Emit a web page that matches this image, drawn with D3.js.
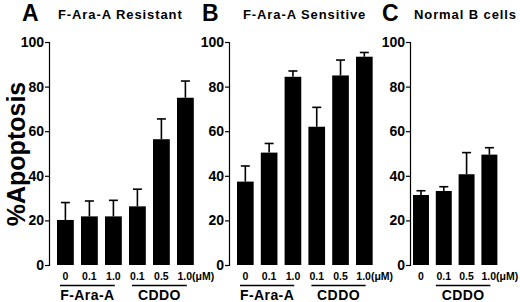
<!DOCTYPE html>
<html>
<head>
<meta charset="utf-8">
<script src="https://cdn.jsdelivr.net/npm/d3@7"></script>
<style>
  body { margin: 0; background: #fff; }
  text { font-family: "Liberation Sans", Arial, sans-serif; font-weight: bold; fill: #000; }
</style>
</head>
<body>
<div class="main"></div>
<script>
////Data
const labelsA = ['0', '0.1', '1.0', '0.1', '0.5', '1.0'];
const valuesA = [20.2, 21.8, 21.8, 26.3, 56.4, 75];
const errorsA = [28, 28.7, 29, 34, 65.5, 82.5];
const groupsA = [['F-Ara-A', 0, 2], ['CDDO', 3, 5]];

const labelsB = ['0', '0.1', '1.0', '0.1', '0.5', '1.0'];
const valuesB = [37.4, 50.4, 84.4, 62, 85, 93.4];
const errorsB = [44.4, 54.5, 87, 70.7, 91.9, 95.3];
const groupsB = [['F-Ara-A', 0, 2], ['CDDO', 3, 5]];

const labelsC = ['0', '0.1', '0.5', '1.0'];
const valuesC = [31.4, 33.2, 40.7, 49.5];
const errorsC = [33.3, 35.1, 50.4, 52.6];
const groupsC = [['CDDO', 1, 3]];

const yTicks = [0, 20, 40, 60, 80, 100];

const width = 520;
const height = 302;
const plotTop = 42;
const plotBottom = 265;

const svg = d3.select('.main').append('svg')
  .attr('width', width)
  .attr('height', height);

const yScale = d3.scaleLinear().domain([0, 100]).range([plotBottom, plotTop]);

// y axis title
svg.append('text')
  .attr('transform', `translate(25, 154) rotate(-90)`)
  .attr('text-anchor', 'middle')
  .style('font-size', '25px')
  .text('%Apoptosis');

function panel(letter, title, letterX, titleX, axisX, firstBar, step, labels, values, errors, groups, lineOff) {
  const n = labels.length;
  const idx = d3.range(n);
  const x0 = firstBar - step * 0.15;
  const xScale = d3.scaleBand()
    .domain(idx)
    .range([x0, x0 + step * n])
    .paddingInner(0.3)
    .paddingOuter(0.15);
  const bw = xScale.bandwidth();

  svg.append('text')
    .attr('x', letterX).attr('y', 21)
    .style('font-size', '23px')
    .text(letter);
  svg.append('text')
    .attr('x', titleX).attr('y', 19)
    .style('font-size', '13px')
    .style('letter-spacing', '0.9px')
    .text(title);

  const yAxis = d3.axisLeft(yScale).tickValues(yTicks).tickSize(4).tickPadding(1);
  const g = svg.append('g')
    .attr('transform', `translate(${axisX}, 0)`)
    .call(yAxis);
  g.select('.domain').attr('stroke', '#000').attr('stroke-width', 1.2);
  g.selectAll('.tick line').attr('stroke', '#000').attr('stroke-width', 1.2);
  g.selectAll('.tick text')
    .style('font-size', '14px')
    .style('font-family', '"Liberation Sans", Arial, sans-serif')
    .style('font-weight', 'bold');

  // error bars
  svg.selectAll(null)
    .data(idx)
    .enter()
    .append('line')
    .attr('x1', d => xScale(d) + bw / 2)
    .attr('x2', d => xScale(d) + bw / 2)
    .attr('y1', d => yScale(values[d]))
    .attr('y2', d => yScale(errors[d]))
    .attr('stroke', '#000')
    .attr('stroke-width', 1.6);
  svg.selectAll(null)
    .data(idx)
    .enter()
    .append('line')
    .attr('x1', d => xScale(d) + bw / 2 - 4.5)
    .attr('x2', d => xScale(d) + bw / 2 + 4.5)
    .attr('y1', d => yScale(errors[d]))
    .attr('y2', d => yScale(errors[d]))
    .attr('stroke', '#000')
    .attr('stroke-width', 1.6);

  svg.selectAll(null)
    .data(idx)
    .enter()
    .append('rect')
    .attr('x', d => xScale(d))
    .attr('y', d => yScale(values[d]))
    .attr('width', bw)
    .attr('height', d => yScale(0) - yScale(values[d]))
    .attr('fill', '#000');

  // x tick labels
  svg.selectAll(null)
    .data(idx)
    .enter()
    .append('text')
    .attr('x', d => d === n - 1 ? xScale(d) + bw / 2 - 8 : xScale(d) + bw / 2)
    .attr('y', 280)
    .attr('text-anchor', d => d === n - 1 ? 'start' : 'middle')
    .style('font-size', '10.5px')
    .text(d => d === n - 1 ? labels[d] + '(\u03BCM)' : labels[d]);

  // group labels
  groups.forEach(([name, a, b]) => {
    const xa = xScale(a) + 3 + lineOff;
    const xb = xScale(b) + bw - 7;
    svg.append('line')
      .attr('x1', xa).attr('x2', xb)
      .attr('y1', 285.5).attr('y2', 285.5)
      .attr('stroke', '#000').attr('stroke-width', 1.3);
    svg.append('text')
      .attr('x', (xa + xb) / 2)
      .attr('y', 300)
      .attr('text-anchor', 'middle')
      .style('font-size', '14px')
      .style('letter-spacing', '0.4px')
      .text(name);
  });
}

panel('A', 'F-Ara-A Resistant', 22, 58, 49, 57, 24, labelsA, valuesA, errorsA, groupsA, 0);
panel('B', 'F-Ara-A Sensitive', 202, 243, 229, 237, 23.8, labelsB, valuesB, errorsB, groupsB, 0);
panel('C', 'Normal B cells', 382, 414, 410, 413, 22.8, labelsC, valuesC, errorsC, groupsC, -3);
</script>
</body>
</html>
